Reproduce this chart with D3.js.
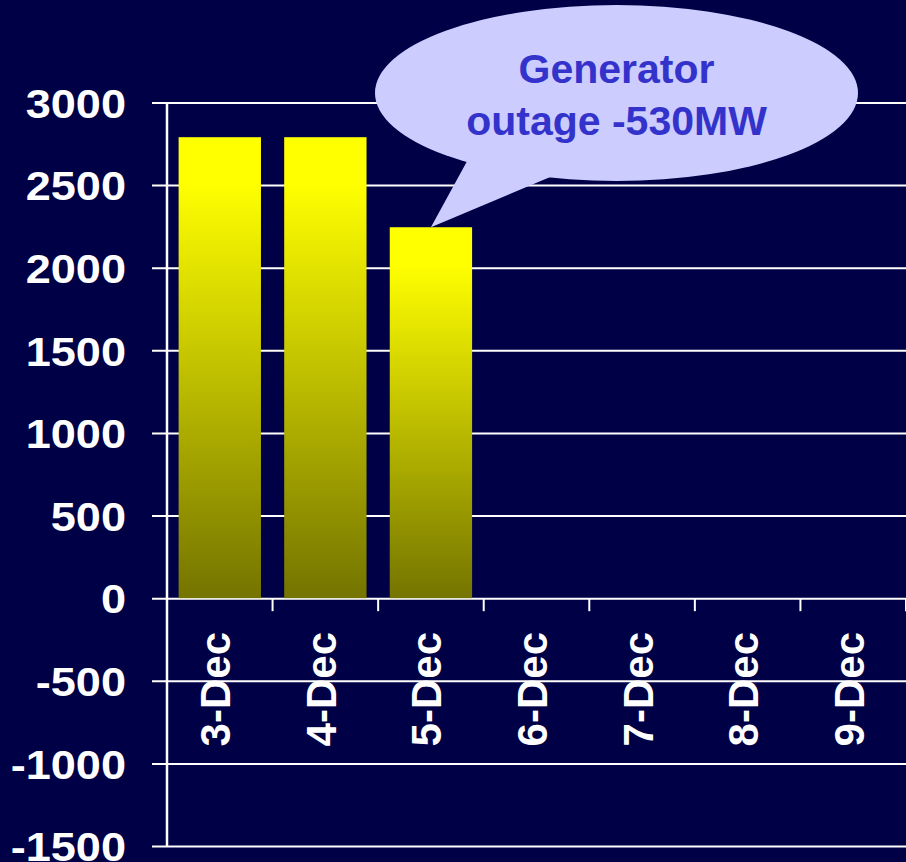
<!DOCTYPE html>
<html>
<head>
<meta charset="utf-8">
<script src="https://cdn.jsdelivr.net/npm/d3@7"></script>
<style>
  body { margin: 0; background: #000046; }
  text { font-family: "Liberation Sans", Arial, sans-serif; font-weight: bold; }
</style>
</head>
<body>
<div id="chart"></div>
<script>
// data
var days = ["3-Dec", "4-Dec", "5-Dec", "6-Dec", "7-Dec", "8-Dec", "9-Dec"];
var margin_mw = [2790, 2790, 2245, null, null, null, null];
var yTicks = [-1500, -1000, -500, 0, 500, 1000, 1500, 2000, 2500, 3000];
var calloutLines = ["Generator", "outage -530MW"];

var W = 906, H = 862;
// plot area (note: "top" is reserved on window, so use other names)
var plotLeft = 167, plotRight = 906, plotTop = 102.5, plotBottom = 846;
var gridStart = 152;

var svg = d3.select("#chart").append("svg")
    .attr("width", W)
    .attr("height", H);

svg.append("rect").attr("width", W).attr("height", H).attr("fill", "#000046");

// bar gradient, yellow on top fading to olive
var grad = svg.append("defs").append("linearGradient")
    .attr("id", "barGrad")
    .attr("x1", 0).attr("y1", 0).attr("x2", 0).attr("y2", 1);
grad.append("stop").attr("offset", "0%").attr("stop-color", "#ffff00");
grad.append("stop").attr("offset", "10%").attr("stop-color", "#ffff00");
grad.append("stop").attr("offset", "100%").attr("stop-color", "#747400");

var x = d3.scaleBand().domain(days).range([plotLeft, plotRight]).paddingInner(0.22).paddingOuter(0.11);
var y = d3.scaleLinear().domain([-1500, 3000]).range([plotBottom, plotTop]);

// gridlines + y labels
var yAxis = d3.axisLeft(y)
    .tickValues(yTicks)
    .tickFormat(function(d) { return String(d); })
    .tickSize(-(plotRight - gridStart))
    .tickPadding(26);
var gy = svg.append("g")
    .attr("transform", "translate(" + gridStart + ",0)")
    .call(yAxis);
gy.select(".domain").remove();
gy.selectAll(".tick line").attr("stroke", "#ffffff").attr("stroke-width", 2);
gy.selectAll(".tick text")
    .attr("fill", "#ffffff")
    .style("font-size", "41px")
    .attr("dy", "0.36em")
    .each(function() {
      var w = this.getComputedTextLength();
      d3.select(this).attr("textLength", w * 1.1).attr("lengthAdjust", "spacingAndGlyphs");
    });

// bars
svg.selectAll(".bar")
    .data(days.map(function(d, i) { return {day: d, v: margin_mw[i]}; }).filter(function(d) { return d.v != null; }))
  .enter().append("rect")
    .attr("class", "bar")
    .attr("x", function(d) { return x(d.day); })
    .attr("width", x.bandwidth())
    .attr("y", function(d) { return y(d.v); })
    .attr("height", function(d) { return y(0) - y(d.v); })
    .attr("fill", "url(#barGrad)");

// y axis line
svg.append("line")
    .attr("x1", plotLeft).attr("x2", plotLeft)
    .attr("y1", y(3000)).attr("y2", y(-1500))
    .attr("stroke", "#ffffff").attr("stroke-width", 2.5);

// ticks on category boundaries below the zero line
svg.selectAll(".xtick")
    .data(days)
  .enter().append("line")
    .attr("class", "xtick")
    .attr("x1", function(d) { return x(d) + x.bandwidth() + x.step() * 0.11; })
    .attr("x2", function(d) { return x(d) + x.bandwidth() + x.step() * 0.11; })
    .attr("y1", y(0)).attr("y2", y(0) + 13)
    .attr("stroke", "#ffffff").attr("stroke-width", 2);

// rotated category labels
svg.selectAll(".xlab")
    .data(days)
  .enter().append("text")
    .attr("class", "xlab")
    .attr("transform", function(d) {
      return "translate(" + (x(d) + x.bandwidth() / 2 + 10.5) + "," + 632 + ") rotate(-90)";
    })
    .attr("text-anchor", "end")
    .attr("fill", "#ffffff")
    .style("font-size", "42px")
    .text(function(d) { return d; });

// callout bubble pointing at the 5-Dec bar
var cx = 616.5, cy = 93;
var tipX = x("5-Dec") + x.bandwidth() / 2, tipY = y(margin_mw[2]);
var bubble = svg.append("g");
bubble.append("ellipse")
    .attr("cx", cx).attr("cy", cy)
    .attr("rx", 241.5).attr("ry", 88)
    .attr("fill", "#ccccff");
bubble.append("path")
    .attr("d", "M467.7,160 L" + tipX + "," + tipY + " L555,175 Z")
    .attr("fill", "#ccccff");
bubble.selectAll("text")
    .data(calloutLines)
  .enter().append("text")
    .attr("x", cx)
    .attr("y", function(d, i) { return 83 + i * 52; })
    .attr("text-anchor", "middle")
    .attr("fill", "#3333cc")
    .style("font-size", "41px")
    .text(function(d) { return d; });
</script>
</body>
</html>
